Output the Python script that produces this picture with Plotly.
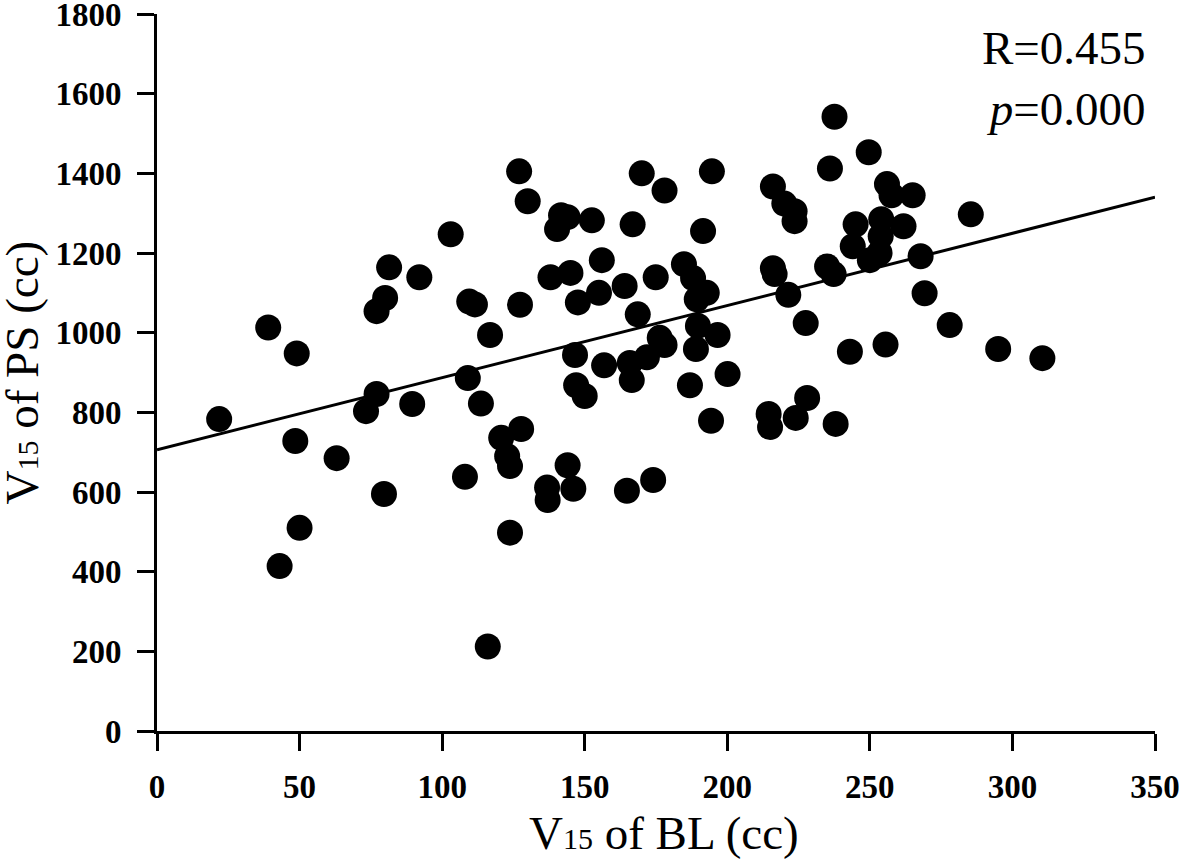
import plotly.graph_objects as go

# V15 of BL (cc)
bl = [21.8, 39, 49, 48.5, 43, 50, 63, 73.3, 77, 77, 80, 81.4, 79.6, 89.5, 92, 103,
      108, 109, 109.5, 111.5, 113.6, 116.8, 116, 120.7, 122.8, 123.8, 123.8, 127, 127.7, 127.3,
      130, 137, 138, 136.8, 140.3, 141.7, 144, 146, 144, 145, 146.6, 147, 147.6, 150,
      152.5, 155, 156, 156.8, 164, 164.8, 165.8, 166.5, 166.8, 168.6, 170, 171.8, 174,
      174.9, 176.3, 178, 178, 184.8, 186.9, 188, 189, 189.7, 189.3, 191.5, 192.8, 194.6,
      194.3, 196.6, 200.1, 214.5, 215, 216, 216, 216.6, 220, 221.4, 223.6, 223.6, 224,
      227.5, 228, 235, 236, 237.6, 237.3, 238, 243, 244, 245, 249.6, 250, 253.4, 253.8,
      254, 255.5, 256, 257.6, 261.8, 265, 267.8, 269.2, 278, 285.4, 295, 310.5]
# V15 of PS (cc)
ps = [783, 1013, 948, 728, 414, 510, 685, 803, 846, 1054, 1087, 1164, 595, 821, 1139, 1247,
      638, 886, 1078, 1071, 822, 994, 212, 736, 690, 665, 498, 1405, 758, 1070,
      1330, 580, 1139, 611, 1260, 1295, 667, 608, 1290, 1150, 944, 868, 1076, 841,
      1282, 1100, 1182, 918, 1117, 603, 924, 881, 1272, 1046, 1400, 938, 630,
      1139, 987, 969, 1357, 1172, 868, 1137, 959, 1017, 1084, 1255, 1100, 1405,
      779, 994, 896, 796, 763, 1367, 1162, 1147, 1324, 1095, 1305, 1280, 786,
      1024, 836, 1166, 1412, 1542, 1147, 771, 952, 1217, 1272, 1453, 1182, 1200, 1242,
      1285, 970, 1373, 1345, 1267, 1345, 1192, 1099, 1019, 1297, 959, 936]

# regression line endpoints
line_x = [0, 350]
line_y = [706, 1340]

x_ticks = [0, 50, 100, 150, 200, 250, 300, 350]
y_ticks = [0, 200, 400, 600, 800, 1000, 1200, 1400, 1600, 1800]

x_title = "V<span style='font-size:30px'>15</span> of BL (cc)"
y_title = "V<span style='font-size:30px'>15</span> of PS (cc)"

FONT = "Liberation Serif, Times New Roman, serif"

fig = go.Figure()
fig.add_trace(go.Scatter(x=bl, y=ps, mode="markers",
                         marker=dict(color="black", size=26, line=dict(width=0)),
                         showlegend=False, cliponaxis=False))
fig.add_trace(go.Scatter(x=line_x, y=line_y, mode="lines",
                         line=dict(color="black", width=3), showlegend=False))

fig.add_annotation(xref="paper", yref="paper", x=1.0, y=1.0, xanchor="right", yanchor="top",
                   xshift=-7, yshift=-6,
                   align="right", showarrow=False,
                   text="R=0.455<br><i>p</i>=0.000",
                   font=dict(family=FONT, size=47, color="black"))
# axis titles
fig.add_annotation(xref="paper", yref="paper", x=0.5, y=0, xanchor="center", yanchor="middle",
                   xshift=8, yshift=-102, showarrow=False, text=x_title,
                   font=dict(family=FONT, size=47, color="black"))
fig.add_annotation(xref="paper", yref="paper", x=0, y=0.5, xanchor="center", yanchor="middle",
                   xshift=-136, textangle=-90, showarrow=False, text=y_title,
                   font=dict(family=FONT, size=47, color="black"))

fig.update_layout(
    width=1181, height=865,
    margin=dict(l=157, r=26, t=14, b=134),
    paper_bgcolor="white", plot_bgcolor="white",
    font=dict(family=FONT, color="black"),
    xaxis=dict(range=[0, 350], tickvals=x_ticks, ticks="outside", ticklen=17, tickwidth=3,
               tickcolor="black", showline=True, linewidth=3, linecolor="black",
               showgrid=False, zeroline=False, automargin=False,
               ticklabelstandoff=7, ticklabeloverflow="allow",
               tickfont=dict(family=FONT, size=33, color="black", weight="bold")),
    yaxis=dict(range=[0, 1800], tickvals=y_ticks, ticks="outside", ticklen=17, tickwidth=3,
               tickcolor="black", showline=True, linewidth=3, linecolor="black",
               showgrid=False, zeroline=False, automargin=False,
               ticklabelstandoff=9, ticklabeloverflow="allow",
               tickfont=dict(family=FONT, size=33, color="black", weight="bold")),
)

fig.write_html("out.html", config={"displayModeBar": False},
               post_script="document.body.style.margin='0';document.body.style.overflow='hidden';")
